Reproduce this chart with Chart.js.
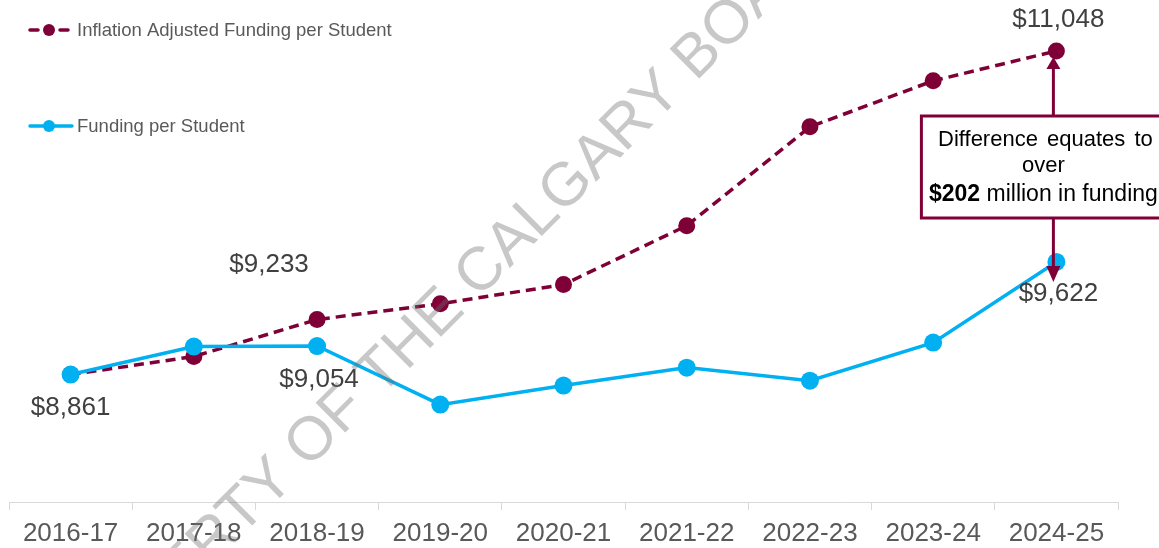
<!DOCTYPE html>
<html>
<head>
<meta charset="utf-8">
<script src="https://cdn.jsdelivr.net/npm/chart.js@4"></script>
<style>
	html, body { margin: 0; padding: 0; background: #ffffff; }
	#wrap { width: 1159px; height: 548px; position: relative; }
</style>
</head>
<body>
<div id="wrap"><canvas id="chart" width="1159" height="548"></canvas></div>
<script>
// chart data
const categories = ['2016-17', '2017-18', '2018-19', '2019-20', '2020-21', '2021-22', '2022-23', '2023-24', '2024-25'];
const inflationAdjusted = [8861, 8983, 9233, 9340, 9469, 9867, 10535, 10846, 11048];
const fundingPerStudent = [8861, 9050, 9054, 8658, 8787, 8908, 8820, 9077, 9622];
const seriesNames = ['Inflation Adjusted Funding per Student', 'Funding per Student'];
const noteLines = ['Difference equates to', 'over'];
const noteAmount = '$202';
const noteRest = ' million in funding';
const watermarkText = 'PROPERTY OF THE CALGARY BOARD OF EDUCATION';

const MAROON = '#7F0037';
const BLUE = '#00B0F0';
const FONT = '"Liberation Sans", Arial, sans-serif';

// which points get a value label, and where it sits relative to the point
const valueLabels = [
	{ ds: 1, i: 0, dx: 0, dy: 33 },
	{ ds: 0, i: 2, dx: -48, dy: -55 },
	{ ds: 1, i: 2, dx: 2, dy: 34 },
	{ ds: 0, i: 8, dx: 2, dy: -31 },
	{ ds: 1, i: 8, dx: 2, dy: 32 }
];

const fmt = v => '$' + v.toLocaleString('en-US');

const labelPlugin = {
	id: 'valueLabels',
	afterDatasetsDraw(chart) {
		const ctx = chart.ctx;
		ctx.save();
		ctx.font = '26px ' + FONT;
		ctx.fillStyle = '#404040';
		ctx.textAlign = 'center';
		ctx.textBaseline = 'middle';
		valueLabels.forEach(l => {
			const pt = chart.getDatasetMeta(l.ds).data[l.i];
			const v = chart.data.datasets[l.ds].data[l.i];
			ctx.fillText(fmt(v), pt.x + l.dx, pt.y + l.dy);
		});
		ctx.restore();
	}
};

const notePlugin = {
	id: 'note',
	afterDatasetsDraw(chart) {
		const ctx = chart.ctx;
		const top = chart.getDatasetMeta(0).data[8];
		const bot = chart.getDatasetMeta(1).data[8];
		const x = top.x - 3;
		ctx.save();
		ctx.strokeStyle = MAROON;
		ctx.fillStyle = MAROON;
		ctx.lineWidth = 3;
		// shaft
		ctx.beginPath();
		ctx.moveTo(x, top.y + 14);
		ctx.lineTo(x, bot.y + 8);
		ctx.stroke();
		// heads
		ctx.beginPath();
		ctx.moveTo(x, top.y + 6);
		ctx.lineTo(x - 7, top.y + 18);
		ctx.lineTo(x + 7, top.y + 18);
		ctx.closePath();
		ctx.fill();
		ctx.beginPath();
		ctx.moveTo(x, bot.y + 20);
		ctx.lineTo(x - 7, bot.y + 4);
		ctx.lineTo(x + 7, bot.y + 4);
		ctx.closePath();
		ctx.fill();
		// box
		const bx = x - 132, by = 116, bw = 250, bh = 102;
		ctx.fillStyle = '#ffffff';
		ctx.fillRect(bx, by, bw, bh);
		ctx.strokeRect(bx, by, bw, bh);
		// text
		const cx = x - 10;
		ctx.fillStyle = '#000000';
		ctx.textBaseline = 'middle';
		ctx.textAlign = 'center';
		ctx.font = '22px ' + FONT;
		ctx.wordSpacing = '3px';
		ctx.fillText(noteLines[0], cx + 2, 140);
		ctx.wordSpacing = '0px';
		ctx.fillText(noteLines[1], cx, 166);
		ctx.font = 'bold 23px ' + FONT;
		const wA = ctx.measureText(noteAmount).width;
		ctx.font = '23px ' + FONT;
		const wB = ctx.measureText(noteRest).width;
		const sx = cx - (wA + wB) / 2;
		ctx.textAlign = 'left';
		ctx.font = 'bold 23px ' + FONT;
		ctx.fillText(noteAmount, sx, 195);
		ctx.font = '23px ' + FONT;
		ctx.fillText(noteRest, sx + wA, 195);
		ctx.restore();
	}
};

const legendPlugin = {
	id: 'sideLegend',
	afterDraw(chart) {
		const ctx = chart.ctx;
		const rows = [30, 126];
		ctx.save();
		chart.data.datasets.forEach((ds, k) => {
			const y = rows[k];
			ctx.strokeStyle = ds.borderColor;
			ctx.fillStyle = ds.borderColor;
			ctx.lineWidth = 3.5;
			ctx.lineCap = 'round';
			ctx.beginPath();
			if (ds.borderDash) {
				ctx.moveTo(30, y); ctx.lineTo(38, y);
				ctx.moveTo(60, y); ctx.lineTo(68, y);
			} else {
				ctx.moveTo(30, y); ctx.lineTo(72, y);
			}
			ctx.stroke();
			ctx.beginPath();
			ctx.arc(49, y, 6, 0, Math.PI * 2);
			ctx.fill();
			ctx.fillStyle = '#595959';
			ctx.font = '18.5px ' + FONT;
			ctx.textBaseline = 'middle';
			ctx.fillText(ds.label, 77, y + 1);
		});
		ctx.restore();
	}
};

const watermarkPlugin = {
	id: 'watermark',
	afterDraw(chart) {
		const ctx = chart.ctx;
		ctx.save();
		ctx.font = '61px ' + FONT;
		ctx.fillStyle = 'rgba(110,110,110,0.38)';
		ctx.translate(482, 272);
		ctx.rotate(-Math.PI / 4);
		const pre = ctx.measureText('PROPERTY OF THE ').width + ctx.measureText('C').width / 2;
		ctx.textBaseline = 'middle';
		ctx.fillText(watermarkText, -pre, 0);
		ctx.restore();
	}
};

new Chart(document.getElementById('chart'), {
	type: 'line',
	data: {
		labels: categories,
		datasets: [{
			label: seriesNames[0],
			data: inflationAdjusted,
			borderColor: MAROON,
			backgroundColor: MAROON,
			borderWidth: 3.5,
			borderDash: [10, 6],
			pointRadius: 8.5,
			pointHoverRadius: 8.5,
			pointBorderWidth: 0,
			order: 1,
			clip: false
		}, {
			label: seriesNames[1],
			data: fundingPerStudent,
			borderColor: BLUE,
			backgroundColor: BLUE,
			borderWidth: 3.5,
			pointRadius: 9,
			pointHoverRadius: 9,
			pointBorderWidth: 0,
			order: 0,
			clip: false
		}]
	},
	options: {
		responsive: false,
		devicePixelRatio: 1,
		animation: false,
		layout: { padding: { left: 7, right: 41, top: 20, bottom: 0 } },
		plugins: {
			legend: { display: false },
			tooltip: { enabled: false }
		},
		scales: {
			x: {
				offset: true,
				grid: {
					offset: true,
					drawOnChartArea: false,
					drawTicks: true,
					tickLength: 8,
					color: '#d9d9d9'
				},
				border: { display: true, color: '#d9d9d9', width: 1 },
				ticks: {
					color: '#595959',
					font: { family: FONT, size: 26 },
					padding: 8,
					maxRotation: 0,
					autoSkip: false
				},
				afterFit(scale) { scale.height = 46; }
			},
			y: {
				display: false,
				min: 8000,
				max: 11257
			}
		}
	},
	plugins: [labelPlugin, notePlugin, legendPlugin, watermarkPlugin]
});
</script>
</body>
</html>
